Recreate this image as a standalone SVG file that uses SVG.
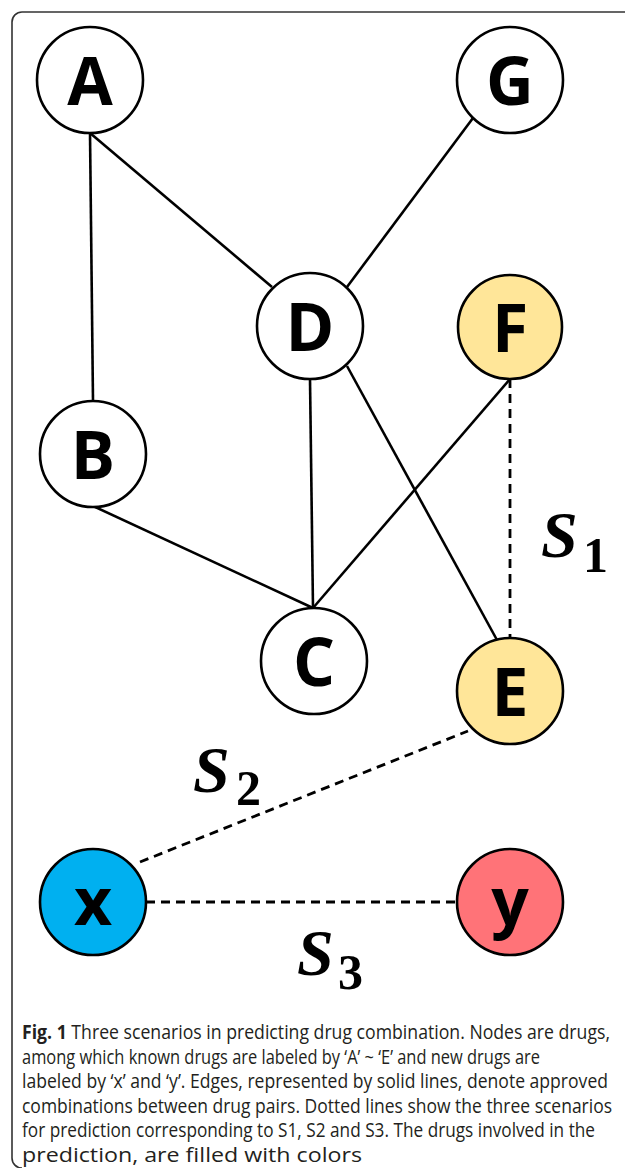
<svg xmlns="http://www.w3.org/2000/svg" width="625" height="1168" viewBox="0 0 625 1168">
<style>
.node circle{stroke:#000;stroke-width:2.6}
.node text{font-family:"Open Sans","DejaVu Sans",sans-serif;font-weight:700;font-size:66px;text-anchor:middle;fill:#000}
.solid{stroke:#000;stroke-width:2.6;fill:none}
.dash{stroke:#000;stroke-width:2.8;fill:none;stroke-dasharray:9 6}
.s{font-family:"Liberation Serif","Times New Roman",serif;font-weight:700;font-style:italic;font-size:66px;fill:#000}
.sub{font-family:"Liberation Serif","Times New Roman",serif;font-weight:700;font-size:50px;fill:#000}
.cap{font-family:"Open Sans","Liberation Sans",sans-serif;font-size:20px;fill:#231f20}
</style>
<rect width="625" height="1168" fill="#fff"/>
<path d="M625,12 H22 A10,10 0 0 0 12,22 V1158 A10,10 0 0 0 22,1168" fill="none" stroke="#333" stroke-width="1.6"/>
<g id="connectors">
<line class="solid" x1="90" y1="133" x2="93" y2="401"/>
<line class="solid" x1="90" y1="133" x2="272" y2="287"/>
<line class="solid" x1="473" y1="118" x2="347" y2="287"/>
<line class="solid" x1="310" y1="379" x2="313" y2="608"/>
<line class="solid" x1="347" y1="366" x2="497" y2="640"/>
<line class="solid" x1="93" y1="506" x2="313" y2="608"/>
<line class="solid" x1="510" y1="379" x2="313" y2="608"/>
<line class="dash" x1="510" y1="379" x2="510" y2="638"/>
<line class="dash" x1="140" y1="862" x2="468" y2="731"/>
<line class="dash" x1="146" y1="902" x2="457" y2="902"/>
</g>
<g id="node-A" class="node"><circle cx="90" cy="80" r="53" fill="#fff"/><text x="90" y="105">A</text></g>
<g id="node-G" class="node"><circle cx="510" cy="80" r="53" fill="#fff"/><text x="510" y="105">G</text></g>
<g id="node-D" class="node"><circle cx="310" cy="326" r="53" fill="#fff"/><text x="310" y="351">D</text></g>
<g id="node-F" class="node"><circle cx="510" cy="327" r="52" fill="#FFE699"/><text x="510" y="352">F</text></g>
<g id="node-B" class="node"><circle cx="93" cy="454" r="53" fill="#fff"/><text x="93" y="479">B</text></g>
<g id="node-C" class="node"><circle cx="314" cy="661" r="53" fill="#fff"/><text x="314" y="686">C</text></g>
<g id="node-E" class="node"><circle cx="510" cy="691" r="53" fill="#FFE699"/><text x="510" y="716">E</text></g>
<g id="node-x" class="node"><circle cx="93" cy="902" r="53" fill="#00B0F0"/><text x="93" y="925">x</text></g>
<g id="node-y" class="node"><circle cx="510" cy="902" r="53" fill="#FF7378"/><text x="510" y="925">y</text></g>
<g id="labels">
<text class="s" x="541" y="557">S</text><text class="sub" x="583" y="572">1</text>
<text class="s" x="193" y="792">S</text><text class="sub" x="236" y="805">2</text>
<text class="s" x="297" y="975">S</text><text class="sub" x="338" y="989">3</text>
</g>
<g id="caption" class="cap">
<text x="22" y="1039" textLength="588" lengthAdjust="spacingAndGlyphs"><tspan font-weight="700">Fig. 1</tspan> Three scenarios in predicting drug combination. Nodes are drugs,</text>
<text x="22" y="1063.5" textLength="518" lengthAdjust="spacingAndGlyphs">among which known drugs are labeled by ‘A’ ~ ‘E’ and new drugs are</text>
<text x="22" y="1088" textLength="586" lengthAdjust="spacingAndGlyphs">labeled by ‘x’ and ‘y’. Edges, represented by solid lines, denote approved</text>
<text x="22" y="1112.5" textLength="590" lengthAdjust="spacingAndGlyphs">combinations between drug pairs. Dotted lines show the three scenarios</text>
<text x="22" y="1137" textLength="573" lengthAdjust="spacingAndGlyphs">for prediction corresponding to S1, S2 and S3. The drugs involved in the</text>
<text x="22" y="1161.5" textLength="340" lengthAdjust="spacingAndGlyphs">prediction, are filled with colors</text>
</g>
</svg>
